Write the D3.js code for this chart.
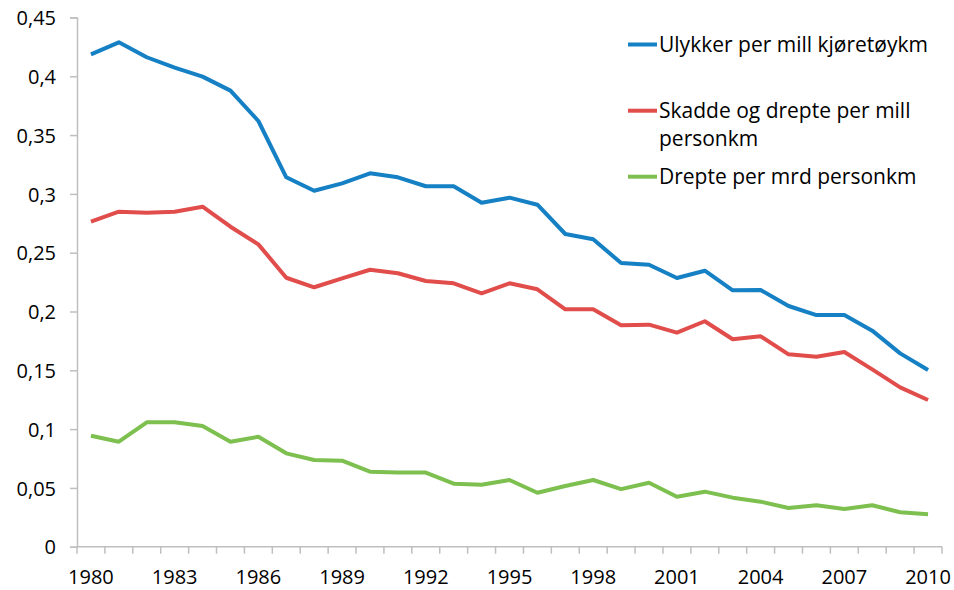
<!DOCTYPE html>
<html><head><meta charset="utf-8">
<script src="https://cdn.jsdelivr.net/npm/d3@7"></script>
<style>body{margin:0;background:#fff}svg{display:block}text{font-family:"Open Sans",Lato,sans-serif;fill:#000}</style>
</head><body><svg id="c" width="954" height="590"></svg>
<script>
const years = d3.range(1980, 2011);
const ulykker = [0.4187,0.4289,0.4162,0.4073,0.3997,0.3878,0.362,0.3141,0.3027,0.309,0.3175,0.3141,0.3065,0.3065,0.2925,0.2968,0.2908,0.2659,0.2614,0.2412,0.2398,0.2285,0.2347,0.218,0.2183,0.2047,0.197,0.197,0.1837,0.1644,0.1502];
const skadde = [0.2764,0.2849,0.284,0.2849,0.2891,0.2721,0.2571,0.2287,0.2206,0.2282,0.2355,0.2325,0.2259,0.224,0.2155,0.224,0.2189,0.2019,0.2019,0.1883,0.1888,0.182,0.1917,0.1764,0.1789,0.1636,0.1616,0.1656,0.1508,0.1355,0.1247];
const drepte = [0.0944,0.0893,0.1058,0.1058,0.1026,0.0893,0.0935,0.0794,0.0737,0.0731,0.0638,0.0632,0.063,0.0536,0.0527,0.0567,0.0459,0.0516,0.0567,0.049,0.0544,0.0425,0.0468,0.0417,0.0383,0.0329,0.0352,0.0321,0.0352,0.0293,0.0276];
const seriesNames = ["Ulykker per mill kjøretøykm", ["Skadde og drepte per mill", "personkm"], "Drepte per mrd personkm"];
const colors = ["#1580c4", "#e04d4b", "#7dc050"];
const yTicks = [0,0.05,0.1,0.15,0.2,0.25,0.3,0.35,0.4,0.45];
const xLabels = [1980,1983,1986,1989,1992,1995,1998,2001,2004,2007,2010];

const svg = d3.select("#c");
const L = 77, R = 942, T = 17.5, B = 546.7;
const x = d3.scaleBand().domain(years).range([L, R]);
const y = d3.scaleLinear().domain([0, 0.45]).range([B, T]);
const axisColor = "#bfbfbf";

// y axis
const ya = svg.append("g").attr("transform", `translate(${L},0)`)
  .call(d3.axisLeft(y).tickValues(yTicks).tickSize(7).tickPadding(14)
    .tickFormat(d => String(+d.toFixed(2)).replace(".", ",")));
ya.select(".domain").attr("stroke", axisColor).attr("stroke-width", 1.5);
ya.selectAll(".tick line").attr("stroke", axisColor).attr("stroke-width", 1.5);
ya.selectAll(".tick text").attr("font-size", 20).style("font-family", "'Open Sans'").attr("dy", "0.36em");

// x axis: ticks at category boundaries
const xa = svg.append("g").attr("transform", `translate(0,${B})`);
xa.append("line").attr("x1", L).attr("x2", R).attr("stroke", axisColor).attr("stroke-width", 1.5);
const bounds = years.map(yr => x(yr)).concat([x(years[years.length-1]) + x.bandwidth()]);
xa.selectAll("line.t").data(bounds).join("line").attr("class","t")
  .attr("x1", d => d).attr("x2", d => d).attr("y1", 0).attr("y2", 7)
  .attr("stroke", axisColor).attr("stroke-width", 1.5);
xa.selectAll("text").data(xLabels).join("text")
  .attr("x", d => x(d) + x.bandwidth()/2).attr("y", 37.8)
  .attr("text-anchor", "middle").attr("font-size", 20).text(d => d);

// lines
const line = d3.line().x((d, i) => x(years[i]) + x.bandwidth()/2).y(d => y(d));
[ulykker, skadde, drepte].forEach((s, k) => {
  svg.append("path").datum(s).attr("d", line).attr("fill", "none")
    .attr("stroke", colors[k]).attr("stroke-width", 4).attr("stroke-linejoin", "round").attr("stroke-linecap", "butt");
});

// legend
const legY = [44.5, 110.7, 176.7];
const lg = svg.append("g");
seriesNames.forEach((n, k) => {
  lg.append("line").attr("x1", 628).attr("x2", 657).attr("y1", legY[k]).attr("y2", legY[k])
    .attr("stroke", colors[k]).attr("stroke-width", 4);
  const lines = Array.isArray(n) ? n : [n];
  lines.forEach((t, j) => {
    lg.append("text").attr("x", 659).attr("y", legY[k] + 7.5 + j*28).attr("font-size", 21).text(t);
  });
});
</script></body></html>
